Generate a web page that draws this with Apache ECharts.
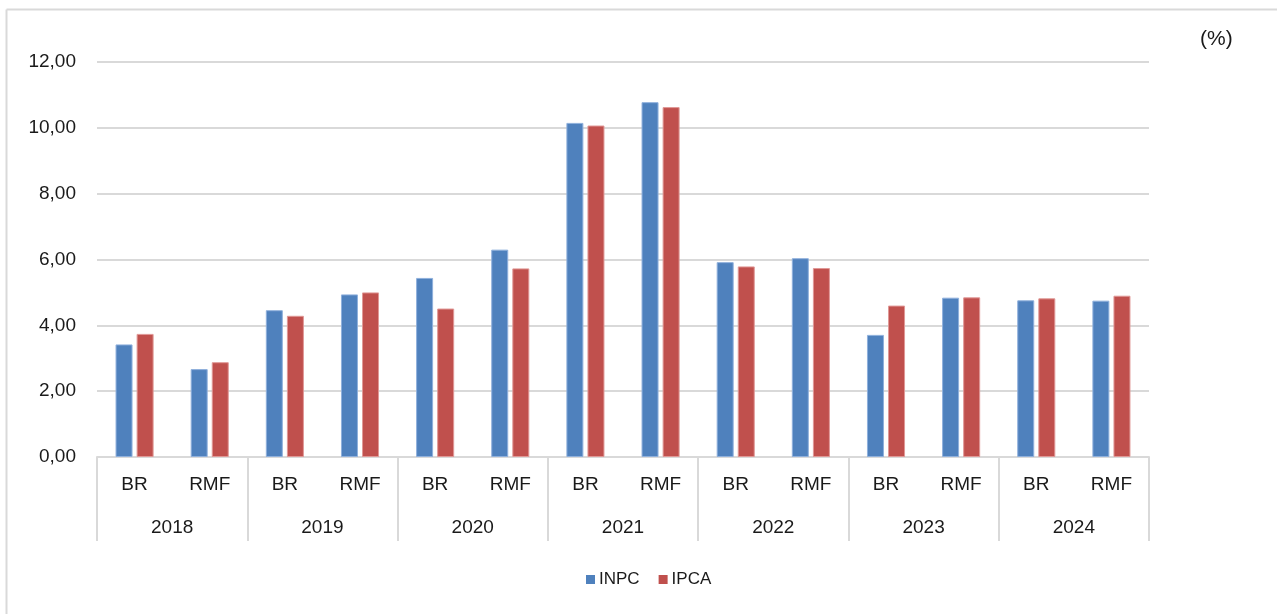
<!DOCTYPE html>
<html>
<head>
<meta charset="utf-8">
<script src="https://cdn.jsdelivr.net/npm/echarts@6/dist/echarts.min.js"></script>
<style>
html,body{margin:0;padding:0;background:#fff;}
#c{width:1277px;height:614px;}
</style>
</head>
<body>
<div id="c"></div>
<script>
var regions = ['BR','RMF','BR','RMF','BR','RMF','BR','RMF','BR','RMF','BR','RMF','BR','RMF'];
var years = ['2018','2019','2020','2021','2022','2023','2024'];
var inpc = [3.42, 2.67, 4.46, 4.94, 5.44, 6.30, 10.15, 10.78, 5.92, 6.04, 3.71, 4.84, 4.76, 4.75];
var ipca = [3.74, 2.88, 4.29, 5.00, 4.51, 5.73, 10.07, 10.63, 5.79, 5.74, 4.60, 4.85, 4.82, 4.90];
var yTicks = [0, 2, 4, 6, 8, 10, 12];

var FONT = "'Liberation Sans', Arial, sans-serif";
var chart = echarts.init(document.getElementById('c'));
chart.setOption({
  animation: false,
  backgroundColor: '#ffffff',
  textStyle: { fontFamily: FONT },
  graphic: [
    { type: 'line', shape: { x1: 6.5, y1: 9.5, x2: 1277, y2: 9.5 }, style: { stroke: '#d9d9d9', lineWidth: 2 } },
    { type: 'line', shape: { x1: 6.5, y1: 9.5, x2: 6.5, y2: 614 }, style: { stroke: '#d9d9d9', lineWidth: 2 } },
    { type: 'text', left: 1200, top: 29, style: { text: '(%)', fontSize: 21, fontFamily: FONT, fill: '#1a1a1a' } }
  ],
  grid: { left: 97, right: 128, top: 62, bottom: 157 },
  legend: {
    bottom: 21, left: 581,
    itemWidth: 9, itemHeight: 9, itemGap: 19,
    icon: 'rect',
    itemStyle: { borderWidth: 0 },
    textStyle: { fontSize: 17, fontFamily: FONT, color: '#1a1a1a', padding: [0, 0, 0, -1] },
    data: ['INPC', 'IPCA']
  },
  xAxis: [
    {
      type: 'category', data: regions, position: 'bottom',
      axisLine: { show: true, lineStyle: { color: '#d9d9d9', width: 2 } },
      axisTick: { show: false },
      axisLabel: { margin: 18, fontSize: 19, color: '#1a1a1a', fontFamily: FONT, interval: 0 }
    },
    {
      type: 'category', data: years, position: 'bottom',
      axisLine: { show: false },
      axisTick: { show: true, length: 84, lineStyle: { color: '#d9d9d9', width: 2 } },
      axisLabel: { margin: 61, fontSize: 19, color: '#1a1a1a', fontFamily: FONT, interval: 0 }
    }
  ],
  yAxis: {
    type: 'value', min: yTicks[0], max: yTicks[yTicks.length - 1], interval: 2,
    axisLine: { show: false }, axisTick: { show: false },
    splitLine: { lineStyle: { color: '#d9d9d9', width: 2 } },
    axisLabel: {
      margin: 21, fontSize: 19, color: '#1a1a1a', fontFamily: FONT,
      formatter: function (v) { return v.toFixed(2).replace('.', ','); }
    }
  },
  series: [
    { name: 'INPC', type: 'bar', xAxisIndex: 0, data: inpc, barWidth: 17, barGap: '24%',
      itemStyle: { color: '#4F81BD', borderColor: '#8fb0dc', borderWidth: 1 } },
    { name: 'IPCA', type: 'bar', xAxisIndex: 0, data: ipca, barWidth: 17, barGap: '24%',
      itemStyle: { color: '#C0504D', borderColor: '#e09896', borderWidth: 1 } }
  ]
});
</script>
</body>
</html>
